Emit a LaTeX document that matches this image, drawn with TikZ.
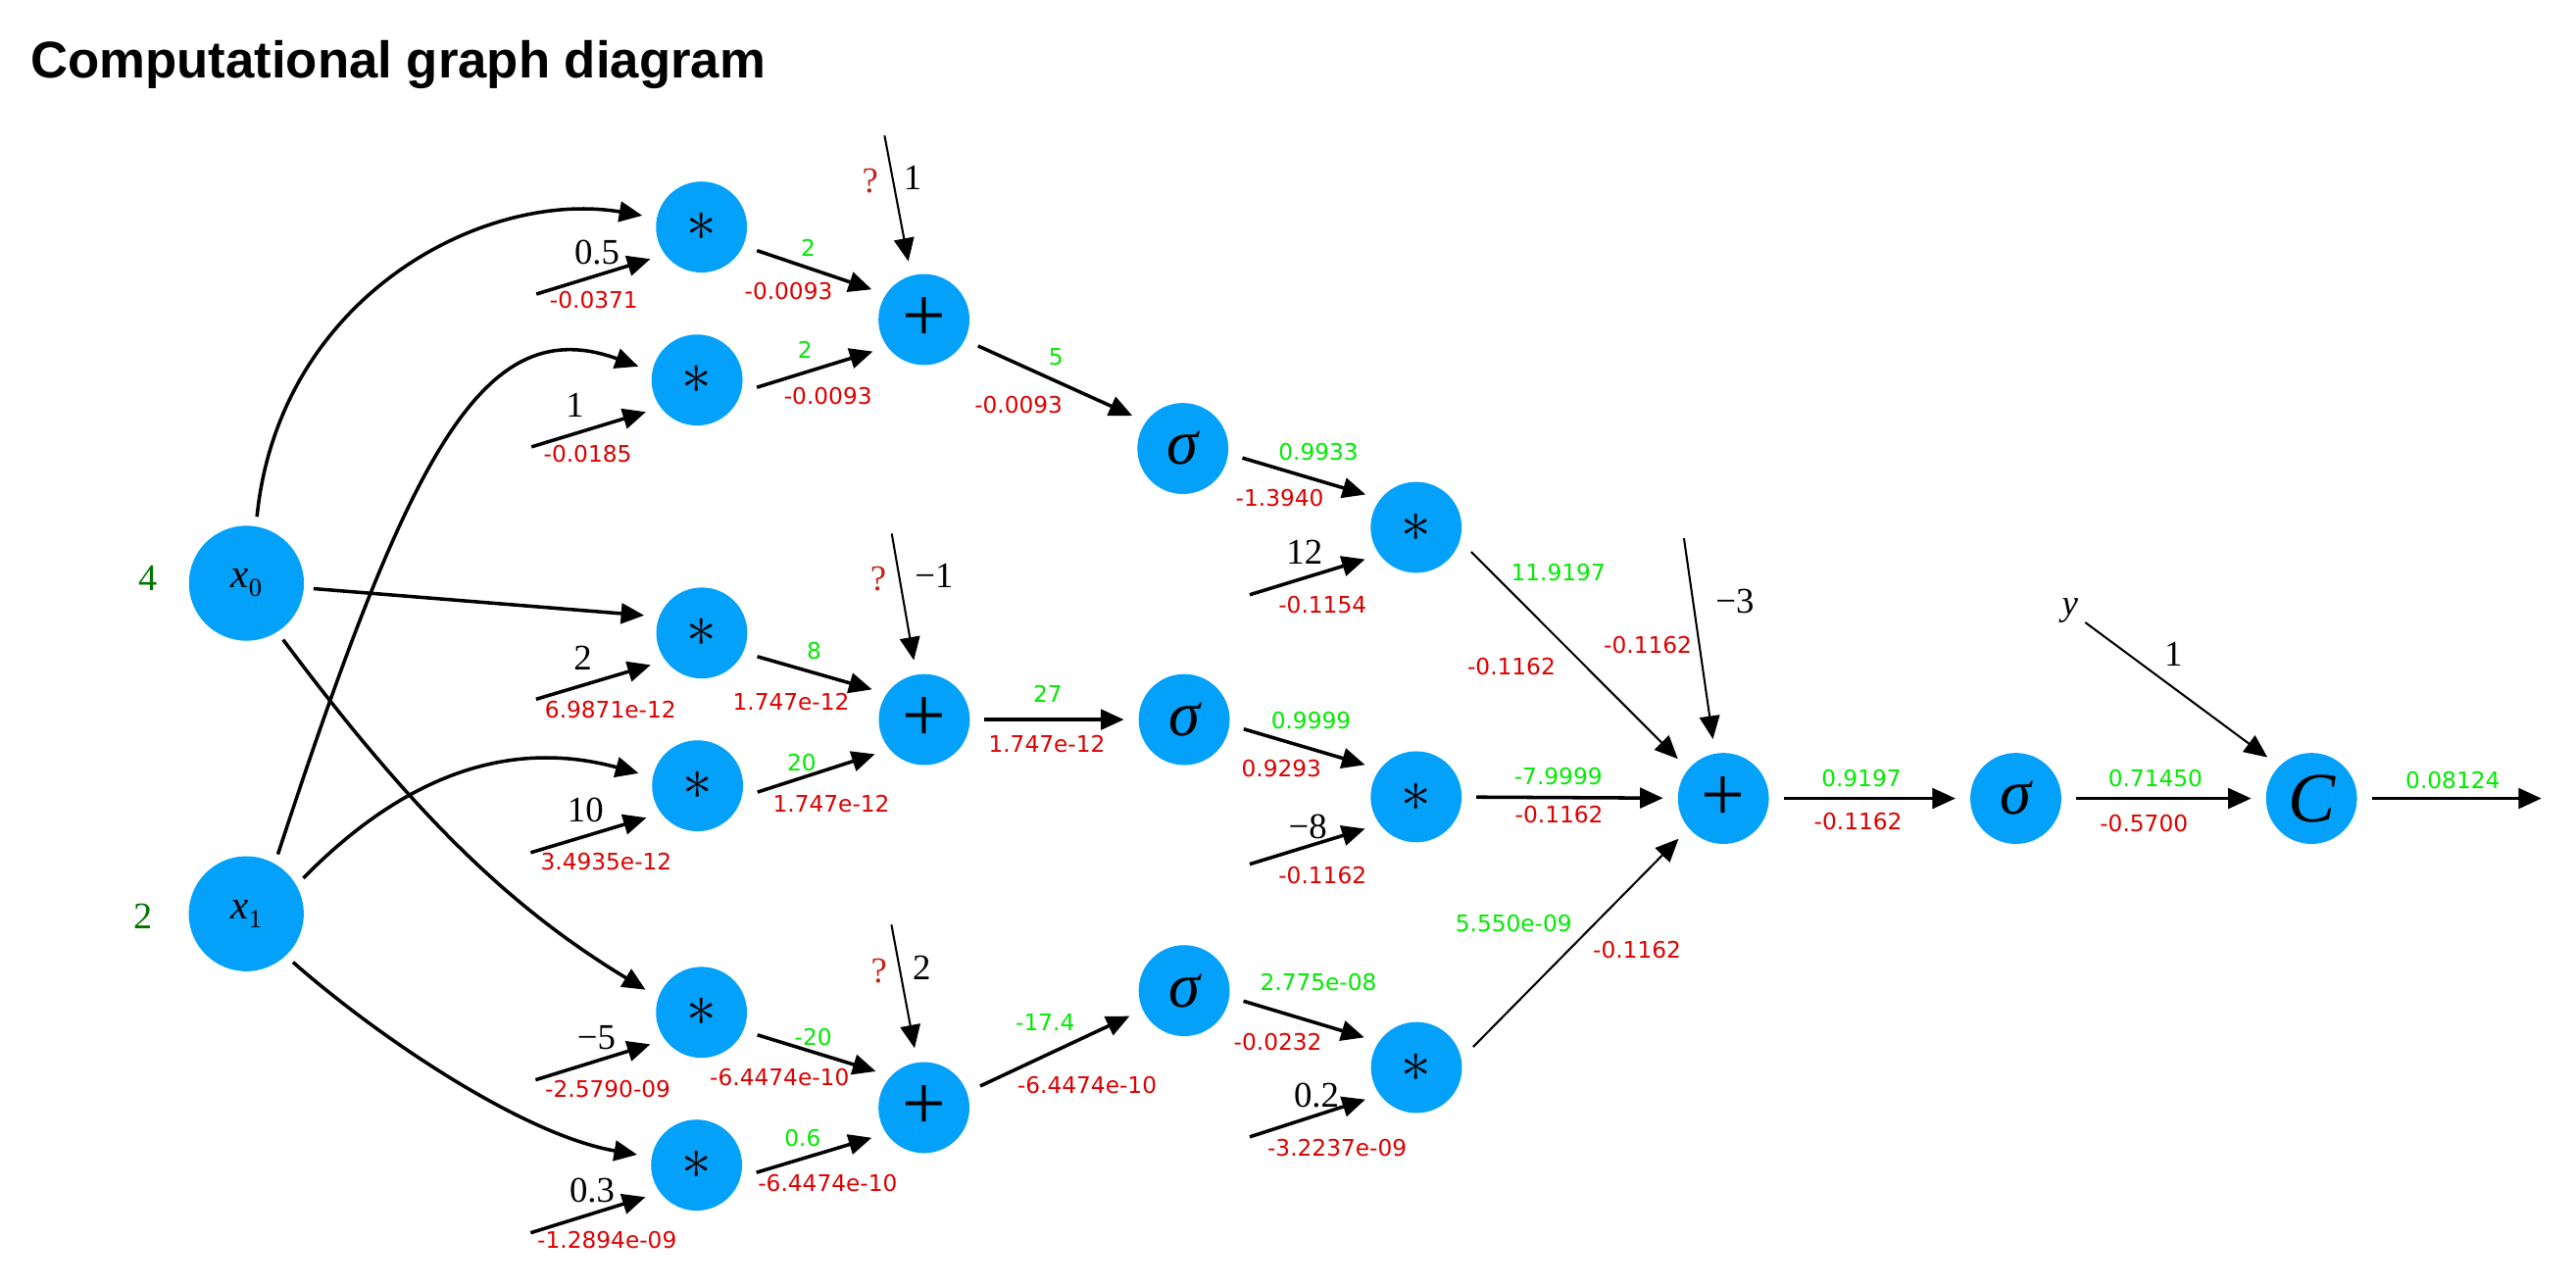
\documentclass[tikz,border=0pt]{standalone}
\usepackage{fontspec}
\usepackage{tikz}
\usetikzlibrary{arrows.meta}
\newfontfamily\numfont{Liberation Serif}
\newfontfamily\valfont{DejaVu Sans}
\newfontfamily\headfont{Liberation Sans}
\definecolor{node blue}{RGB}{3,161,250}
\definecolor{grad green}{RGB}{0,235,0}
\definecolor{error red}{RGB}{220,0,0}
\definecolor{query red}{RGB}{195,35,25}
\definecolor{input green}{RGB}{0,115,0}
\tikzset{
  op/.style={circle, fill=node blue, minimum size=1.108cm, inner sep=0pt, outer sep=0.18cm},
  mulnode/.style={op, font=\fontsize{20.74}{20.74}\selectfont},
  plusnode/.style={op, font=\numfont\fontsize{27}{27}\selectfont},
  signode/.style={op, font=\numfont\itshape\fontsize{22}{22}\selectfont},
  costnode/.style={op, font=\numfont\itshape\fontsize{24.5}{24.5}\selectfont},
  innode/.style={circle, fill=node blue, minimum size=1.4cm, inner sep=0pt, outer sep=0.12cm,
    font=\numfont\fontsize{14}{14}\selectfont},
  flow/.style={-{Triangle[length=8pt,width=7pt]}, line width=1.2pt},
  thin flow/.style={flow, line width=0.7pt},
  gradlabel/.style={text=grad green, inner sep=0pt, font=\valfont\fontsize{7.9}{7.9}\selectfont},
  errlabel/.style={text=error red, inner sep=0pt, font=\valfont\fontsize{7.9}{7.9}\selectfont},
  vallabel/.style={inner sep=0pt, font=\numfont\fontsize{12.5}{12.5}\selectfont},
  asklabel/.style={vallabel, text=query red},
  feedlabel/.style={inner sep=0pt, text=input green, font=\numfont\fontsize{13}{13}\selectfont}
}

\begin{document}
\begin{tikzpicture}[x=0.02cm, y=-0.02cm]
			\useasboundingbox (0,0) rectangle (1568,784);
			% title
			\node[anchor=base west, inner sep=0pt, font=\headfont\bfseries\fontsize{17.9}{21}\selectfont]
				(title) at (18.3,47.7) {Computational graph diagram};
			% inputs
			\node[innode] (x0) at (150,355) {{\itshape x}\raisebox{-3pt}{\fontsize{9}{9}\selectfont 0}};
			\node[innode] (x1) at (149.9,556.2) {{\itshape x}\raisebox{-3pt}{\fontsize{9}{9}\selectfont 1}};
			\node[feedlabel] (in0) at (90,351.8) {4};
			\node[feedlabel] (in1) at (87,558) {2};
			% part for the first products
			\begin{scope}
				\node[mulnode] (m1) at (427,138.2) {$\ast$};
				\node[mulnode] (m2) at (424.3,231.3) {$\ast$};
				\node[mulnode] (m3) at (427.2,385.3) {$\ast$};
				\node[mulnode] (m4) at (424.6,478.3) {$\ast$};
				\node[mulnode] (m5) at (427,616.2) {$\ast$};
				\node[mulnode] (m6) at (424,709.2) {$\ast$};
			\end{scope}
			% part for the sums and sigmoids
			\begin{scope}
				\node[plusnode] (p1) at (562.4,194.5) {+};
				\node[plusnode] (p2) at (562.6,438) {+};
				\node[plusnode] (p3) at (562.4,674.2) {+};
				\node[signode] (s1) at (720,273) {σ};
				\node[signode] (s2) at (720.8,438) {σ};
				\node[signode] (s3) at (720.8,603) {σ};
			\end{scope}
			% part for the second products and the output
			\begin{scope}
				\node[mulnode] (m7) at (862,321) {$\ast$};
				\node[mulnode] (m8) at (862,485) {$\ast$};
				\node[mulnode] (m9) at (862.2,649.8) {$\ast$};
				\node[plusnode] (p4) at (1049,486) {+};
				\node[signode] (s4) at (1227,486) {σ};
				\node[costnode] (cost) at (1407,486) {C};
				\node[vallabel, font=\numfont\itshape\fontsize{12.5}{12.5}\selectfont, outer sep=2.5pt]
					(y) at (1260,372) {y};
			\end{scope}
			% free ends
			\coordinate (w1) at (326.5,179);
			\coordinate (w2) at (323.5,272);
			\coordinate (w3) at (326.3,425.6);
			\coordinate (w4) at (323,519);
			\coordinate (w5) at (326,657.3);
			\coordinate (w6) at (323,750.4);
			\coordinate (w7) at (760.7,362);
			\coordinate (w8) at (760.7,526);
			\coordinate (w9) at (760.7,692);
			\coordinate (b1) at (538.4,82.5);
			\coordinate (b2) at (542.8,324.8);
			\coordinate (b3) at (542.6,562.8);
			\coordinate (b4) at (1025,327.6);
			\coordinate (out) at (1547,486);
			% inputs into the products
			\draw[flow] (x0.81) .. controls (170,180) and (295,115) .. (m1.169);
			\draw[flow] (x1.62) .. controls (250,273) and (295,189) .. (m2.167);
			\draw[flow] (x0) -- (m3.163);
			\draw[flow] (x1.32) .. controls (255,463) and (320,452) .. (m4.168);
			\draw[flow] (x0.303) .. controls (250,493) and (308,551) .. (m5.158);
			\draw[flow] (x1.314) .. controls (231,632) and (319,691) .. (m6.170);
			\foreach \i in {1,...,9}
				\draw[flow] (w\i) -- (m\i.212);
			% forward edges
			\draw[flow] (m1.337) -- (p1.150);
			\draw[flow] (m2.353) -- (p1.212);
			\draw[flow] (m3.337) -- (p2.150);
			\draw[flow] (m4.354) -- (p2.215);
			\draw[flow] (m5.338) -- (p3.143);
			\draw[flow] (m6.353) -- (p3.210);
			\draw[flow] (p1.334) -- (s1.147);
			\draw[flow] (p2) -- (s2);
			\draw[flow] (p3.21) -- (s3.205);
			\draw[flow] (s1.351) -- (m7.147);
			\draw[flow] (s2.351) -- (m8.148);
			\draw[flow] (s3.350) -- (m9.150);
			\draw[thin flow] (m7.336) -- (p4.139);
			\draw[flow] (m8) -- (p4);
			\draw[thin flow] (m9.20) -- (p4.222);
			\draw[flow] (p4) -- (s4);
			\draw[flow] (s4) -- (cost);
			\draw[thin flow] (y) -- (cost.137);
			\draw[flow] (cost) -- (out);
			% biases
			\draw[thin flow] (b1) -- (p1.105);
			\draw[thin flow] (b2) -- (p2.100);
			\draw[thin flow] (b3) -- (p3.99);
			\draw[thin flow] (b4) -- (p4.100);
			% values
			\foreach \px/\py/\txt [count=\i] in {363.4/153.5/0.5, 350/246.5/1, 354.8/400.8/2,
				356.4/493.3/10, 363/631.5/−5, 360.4/724.5/0.3, 794/336/12, 796/503/−8,
				801.3/666.7/0.2, 555.5/108.4/1, 568.6/350.6/−1, 561/589/2, 1056/366/−3, 1323/398/1}
				\node[vallabel] (v\i) at (\px,\py) {\txt};
			\foreach \px/\py [count=\i] in {529.7/110.4, 534.6/352.4, 535/591}
				\node[asklabel] (q\i) at (\px,\py) {?};
			% forward values
			\foreach \px/\py/\txt [count=\i] in {492/151/2, 490/212.8/2, 495.5/396.4/8, 488/464/20,
				495/631/-20, 488.6/692.5/0.6, 642.8/217.2/5, 637.8/422.6/27, 636.2/622.5/-17.4,
				802.5/275/0.9933, 798/438.5/0.9999, 802.5/597.7/2.775e-08, 948.5/348.5/11.9197,
				948.5/472.7/-7.9999, 921.4/562.2/5.550e-09, 1133/474/0.9197, 1312/474/0.71450,
				1493/475/0.08124}
				\node[gradlabel] (g\i) at (\px,\py) {\txt};
			% gradients
			\foreach \px/\py/\txt [count=\i] in {361.5/182.6/-0.0371, 357.7/276.4/-0.0185,
				371.6/432/6.9871e-12, 369/524.5/3.4935e-12, 370/662.7/-2.5790-09,
				369.5/754.8/-1.2894e-09, 805/368/-0.1154, 805/533/-0.1162, 813.9/698.5/-3.2237e-09,
				480/177.3/-0.0093, 504/241/-0.0093, 481.5/427.2/1.747e-12, 506/489.3/1.747e-12,
				474.5/656/-6.4474e-10, 503.8/720.3/-6.4474e-10, 620/246.2/-0.0093,
				637.2/453/1.747e-12, 661.7/660.3/-6.4474e-10, 779/303/-1.3940, 780/468/0.9293,
				777.8/634/-0.0232, 920/406/-0.1162, 1003/392.7/-0.1162, 949/496/-0.1162,
				996.4/578.3/-0.1162, 1131/500/-0.1162, 1305/501/-0.5700}
				\node[errlabel] (e\i) at (\px,\py) {\txt};
		\end{tikzpicture}
\end{document}
